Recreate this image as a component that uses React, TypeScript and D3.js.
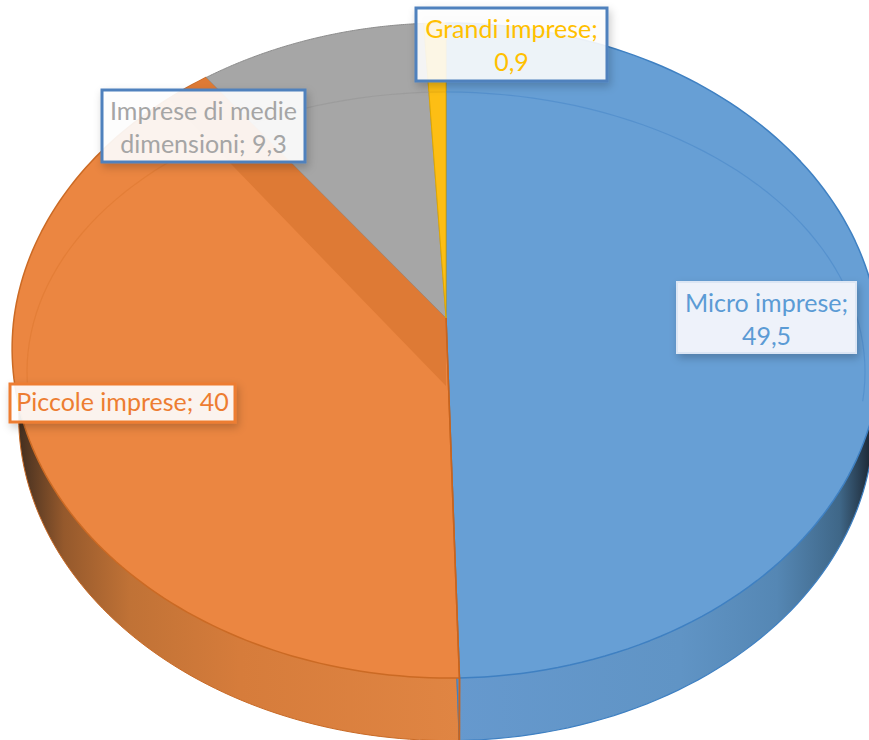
import React from "react";
import * as d3 from "d3";

const categories = ["Micro imprese", "Piccole imprese", "Imprese di medie dimensioni", "Grandi imprese"];
const values = [49.5, 40, 9.3, 0.9];
const valueLabels = ["49,5", "40", "9,3", "0,9"];
const labelLines = [
  ["Micro imprese;", "49,5"],
  ["Piccole imprese; 40"],
  ["Imprese di medie", "dimensioni; 9,3"],
  ["Grandi imprese;", "0,9"],
];
const topColors = ["#679FD5", "#EB8641", "#A6A6A6", "#FDBE14"];
const edgeColors = ["#3F80C2", "#CB6A24", "#8C8C8C", "#E0A800"];
const ringColors = ["#4F8CCB", "#DF7A33", "#999999", "#E8AC10"];
const textColors = ["#5B9BD5", "#ED7D31", "#A5A5A5", "#FFC000"];

const boxes = [
  { x: 677, y: 282, w: 179, h: 71, stroke: "#DCE6F4", sw: 2, fill: "#EEF2FA" },
  { x: 10, y: 384, w: 225, h: 38, stroke: "#ED7D31", sw: 3, fill: "rgba(255,255,255,0.9)" },
  { x: 102, y: 90, w: 203, h: 72, stroke: "#4F81BD", sw: 3, fill: "rgba(255,255,255,0.9)" },
  { x: 416, y: 8, w: 191, h: 73, stroke: "#4F81BD", sw: 3, fill: "rgba(255,255,255,0.88)" },
];

const W = 869, H = 740;
const cx = 446, cy = 318, R = 432, B = 324.3, K = 0.0992, DEPTH = 68, BOTTOM_SCALE = 0.985, SHEAR = 0.006;

const project = (a: number, r = 1, dy = 0, sc = 1): [number, number] => {
  const u = r * Math.sin(a), v = -r * Math.cos(a), w = 1 - K * v;
  return [cx + (R * sc * (u + SHEAR * Math.max(v, 0))) / w, cy + (B * sc * v) / w + dy];
};

const pie = d3.pie<number>().sort(null).value((d) => d);
const arcs = pie(values);
const line = d3.line();

const arcPoints = (a0: number, a1: number, r = 1, dy = 0, sc = 1) =>
  d3.range(0, 121).map((i) => project(a0 + ((a1 - a0) * i) / 120, r, dy, sc));

const slicePath = (a0: number, a1: number, dy = 0, sc = 1) =>
  line([[cx, cy + dy], ...arcPoints(a0, a1, 1, dy, sc)]) + "Z";

const ringPath =
  line(
    d3.range(-96, 97, 2).map((deg) => {
      const t = (deg * Math.PI) / 180;
      return [446 + 419 * Math.sin(t), 372 - 280 * Math.cos(t)] as [number, number];
    })
  ) ?? "";

export default function App() {
  const micro = arcs[0], piccole = arcs[1];
  const end = project(piccole.endAngle);
  const bandDy = 68;
  const band = line([
    [cx, cy],
    [cx, cy + bandDy],
    [cx - (cx - end[0]) * 1.3, cy + bandDy - (cy - end[1]) * 1.3 * 1.03],
    [cx - (cx - end[0]) * 1.3, cy - (cy - end[1]) * 1.3],
  ]) + "Z";
  return (
    <svg
      width={W}
      height={H}
      viewBox={`0 0 ${W} ${H}`}
      style={{ position: "fixed", left: 0, top: 0, background: "#fff" }}
      fontFamily="Lato, 'Open Sans', sans-serif"
    >
      <defs>
        <linearGradient id="wallBlue" gradientUnits="userSpaceOnUse" x1={450} x2={869} y1={0} y2={0}>
          <stop offset="0" stopColor="#6699CE" />
          <stop offset="0.55" stopColor="#6094C5" />
          <stop offset="0.78" stopColor="#5587B4" />
          <stop offset="0.93" stopColor="#3F6788" />
          <stop offset="1" stopColor="#1F2C3A" />
        </linearGradient>
        <linearGradient id="wallOrange" gradientUnits="userSpaceOnUse" x1={20} x2={460} y1={0} y2={0}>
          <stop offset="0" stopColor="#463020" />
          <stop offset="0.1" stopColor="#95592C" />
          <stop offset="0.25" stopColor="#C07236" />
          <stop offset="0.5" stopColor="#D67C3B" />
          <stop offset="1" stopColor="#E08543" />
        </linearGradient>
        {arcs.map((a, i) => (
          <clipPath id={`clip${i}`} key={i}><path d={slicePath(a.startAngle, a.endAngle)} /></clipPath>
        ))}
        <filter id="shadow" x="-20%" y="-30%" width="140%" height="170%">
          <feDropShadow dx="2" dy="4" stdDeviation="4" floodColor="#000" floodOpacity="0.22" />
        </filter>
      </defs>

      <g>
        <path d={slicePath(piccole.startAngle, piccole.endAngle, DEPTH, BOTTOM_SCALE)} fill="url(#wallOrange)" stroke="#C86A26" strokeWidth={1} />
        <path d={slicePath(micro.startAngle, micro.endAngle, DEPTH, BOTTOM_SCALE)} fill="url(#wallBlue)" stroke="#3F80C2" strokeWidth={1.2} />
      </g>

      <g>
        {arcs.map((a, i) => (
          <path
            key={categories[i]}
            d={slicePath(a.startAngle, a.endAngle)}
            fill={topColors[i]}
            stroke={edgeColors[i]}
            strokeWidth={i < 2 ? 1.5 : 1}
            strokeLinejoin="round"
          />
        ))}
      </g>

      <path d={band} fill="#DE7A35" clipPath="url(#clip1)" />

      <path
        d={line([project(micro.endAngle), project(micro.endAngle, 1, DEPTH, BOTTOM_SCALE)]) ?? ""}
        stroke="#C8641E"
        strokeWidth={2}
        fill="none"
      />
      <path
        d={line([[cx, cy], project(micro.endAngle)]) ?? ""}
        stroke="#C8641E"
        strokeWidth={1.5}
        fill="none"
      />

      {arcs.map((a, i) => (
        <g key={`ring${i}`} clipPath={`url(#clip${i})`}>
          <path d={ringPath} fill="none" stroke={ringColors[i]} strokeOpacity={0.7} strokeWidth={1.2} />
        </g>
      ))}

      {boxes.map((b, i) => (
        <g key={categories[i] + "-label"}>
          <rect x={b.x} y={b.y} width={b.w} height={b.h} fill={b.fill} stroke={b.stroke} strokeWidth={b.sw} filter="url(#shadow)" />
          {labelLines[i].map((t, j) => (
            <text
              key={t}
              x={b.x + b.w / 2}
              y={b.y + (labelLines[i].length === 1 ? 27 : 30 + j * 33)}
              textAnchor="middle"
              fontSize={25}
              fill={textColors[i]}
              data-value={valueLabels[i]}
            >
              {t}
            </text>
          ))}
        </g>
      ))}
    </svg>
  );
}
